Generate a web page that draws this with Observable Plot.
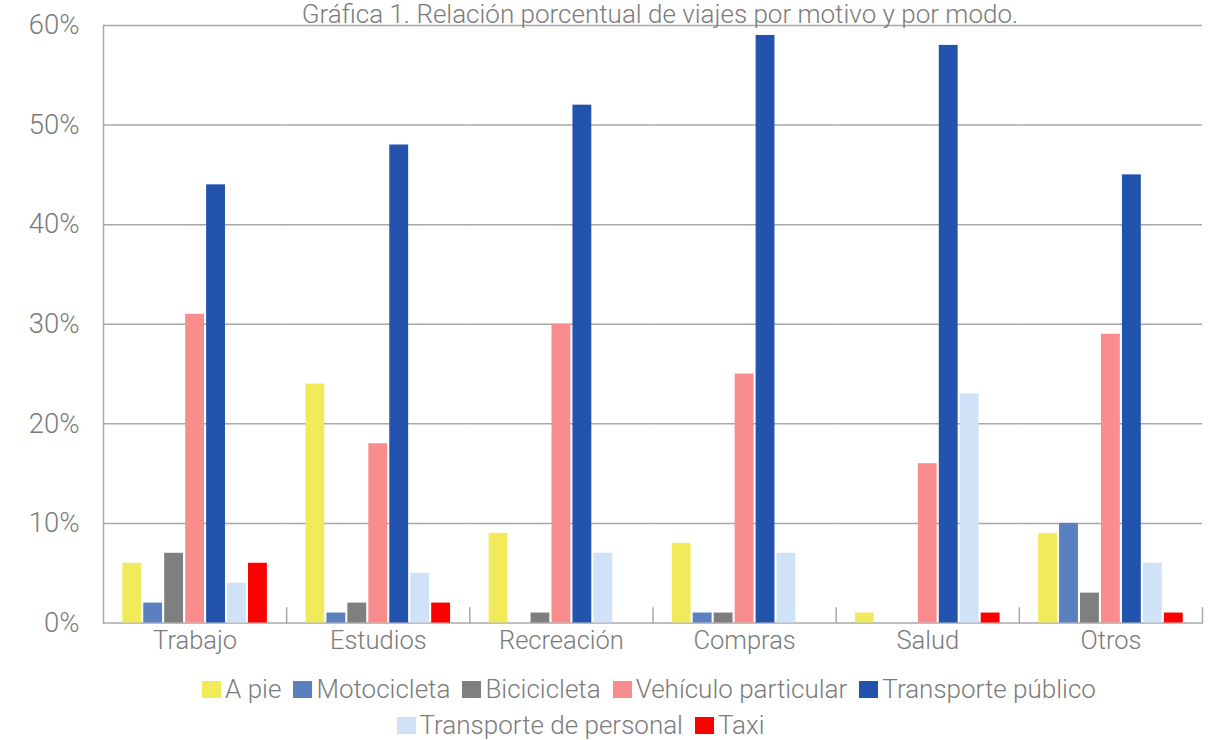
<!DOCTYPE html>
<html><head><meta charset="utf-8">
<script src="https://cdn.jsdelivr.net/npm/d3@7"></script>
<script src="https://cdn.jsdelivr.net/npm/@observablehq/plot@0.6"></script>
<style>
body{margin:0;background:#fff;font-family:Roboto,"Noto Sans",sans-serif;font-weight:300;color:#7b7b7b}
#wrap{position:relative;width:1211px;height:740px;overflow:hidden}
#title{position:absolute;top:1px;left:0;width:1211px;box-sizing:border-box;padding-left:109px;text-align:center;font-size:26px;line-height:26px;z-index:2;white-space:nowrap}
.row{display:flex;justify-content:center;font-size:26px;line-height:36px;height:36px;white-space:nowrap}
.item{display:flex;align-items:center;margin:0 6px}
.sw{width:19px;height:17px;margin-right:4px}
</style></head><body>
<div id="wrap"><div id="title"></div><div id="chart"></div><div id="legend"></div></div>
<script>
const title = "Gráfica 1. Relación porcentual de viajes por motivo y por modo.";
const categories = ["Trabajo","Estudios","Recreación","Compras","Salud","Otros"];
const modes = ["A pie","Motocicleta","Bicicicleta","Vehículo particular","Transporte público","Transporte de personal","Taxi"];
const aPie        = [6, 24, 9, 8, 1, 9];
const motocicleta = [2, 1, 0, 1, 0, 10];
const bicicleta   = [7, 2, 1, 1, 0, 3];
const vehiculo    = [31, 18, 30, 25, 16, 29];
const publico     = [44, 48, 52, 59, 58, 45];
const personal    = [4, 5, 7, 7, 23, 6];
const taxi        = [6, 2, 0, 0, 1, 1];
const yTicks = [0, 10, 20, 30, 40, 50, 60];
const colors = ["#f1eb5c","#5a80c0","#7f7f7f","#f98d8d","#2254ae","#d0e2f7","#ff0000"];

const series = [aPie, motocicleta, bicicleta, vehiculo, publico, personal, taxi];
const data = [];
categories.forEach((c, i) => modes.forEach((m, j) => data.push({cat: c, mode: m, value: series[j][i]})));

document.getElementById("title").textContent = title;

const W = 1211, H = 671, mT = 25, mB = 48.5;
const gray = "#a8a8a8";
const plot = Plot.plot({
  width: W, height: H,
  marginLeft: 103, marginRight: 9, marginTop: mT, marginBottom: mB,
  style: {fontFamily: "Roboto, 'Noto Sans', sans-serif", fontWeight: 300, color: "#7b7b7b", background: "transparent"},
  fx: {domain: categories, padding: 0, round: false},
  x: {domain: modes, paddingInner: 0.1, paddingOuter: 0.92, round: false, axis: null},
  y: {domain: [0, 60]},
  color: {domain: modes, range: colors},
  marks: [
    Plot.gridY(yTicks, {stroke: gray, strokeOpacity: 1, strokeWidth: 1.5}),
    Plot.barY(data, {fx: "cat", x: "mode", y: "value", fill: "mode"}),
    Plot.frame({anchor: "left", facetAnchor: "left", stroke: gray, strokeWidth: 1.5}),
    Plot.frame({anchor: "right", insetTop: H - mT - mB - 15, stroke: gray, strokeWidth: 1.5}),
    Plot.axisY(yTicks, {tickSize: 0, tickPadding: 24, tickFormat: d => d + "%", fontSize: 27.5, fill: "#7b7b7b", label: null}),
    Plot.axisFx({anchor: "bottom", tickSize: 0, tickPadding: 8, fontSize: 25.5, fill: "#7b7b7b", label: null})
  ]
});
document.getElementById("chart").appendChild(plot);

const legend = document.getElementById("legend");
const rows = [[0,1,2,3,4],[5,6]];
const pads = ["padding-left:87px", "padding-right:50px"];
rows.forEach((r, k) => {
  const row = document.createElement("div");
  row.className = "row";
  row.style.cssText = pads[k];
  r.forEach(j => {
    const it = document.createElement("div");
    it.className = "item";
    const sw = document.createElement("span");
    sw.className = "sw";
    sw.style.background = colors[j];
    const t = document.createElement("span");
    t.textContent = modes[j];
    it.appendChild(sw); it.appendChild(t);
    row.appendChild(it);
  });
  legend.appendChild(row);
});
</script>
</body></html>
